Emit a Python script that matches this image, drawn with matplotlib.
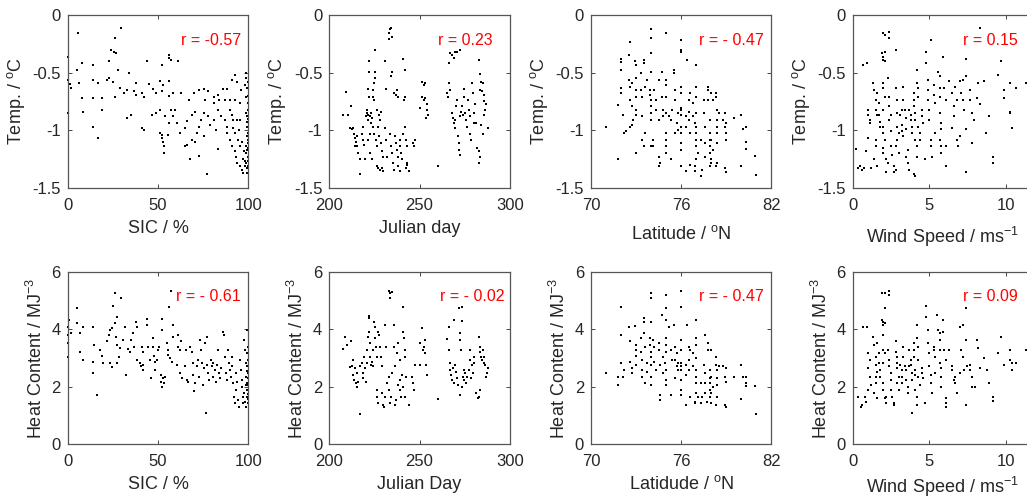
import matplotlib.pyplot as plt

plt.rcParams["font.family"] = ["Liberation Sans", "DejaVu Sans"]
plt.rcParams["mathtext.fontset"] = "custom"
plt.rcParams["mathtext.rm"] = "Liberation Sans"
plt.rcParams["mathtext.it"] = "Liberation Sans:italic"

# (x, y) samples
sic_temp = [
    (5.5, -0.16), (29.5, -0.11), (26, -0.20), (24, -0.30), (25.5, -0.32), (27, -0.33), (0.4, -0.36),
    (8, -0.42), (14, -0.43), (23, -0.40), (44, -0.40), (52, -0.43), (56, -0.37), (57, -0.39), (61, -0.40),
    (56, -0.35), (5, -0.48), (28, -0.48), (34, -0.50), (0.4, -0.56), (6.5, -0.59), (1.3, -0.60), (2, -0.63),
    (14, -0.56), (17, -0.59), (22, -0.56), (23, -0.55), (25, -0.58), (38, -0.59), (45, -0.60), (51, -0.57),
    (56, -0.57), (53, -0.61), (8, -0.72), (14, -0.72), (19, -0.72), (26, -0.71), (29, -0.63), (31, -0.68),
    (33, -0.65), (37, -0.66), (38, -0.69), (41, -0.68), (42, -0.71), (47, -0.64), (49, -0.68), (52, -0.66),
    (56, -0.70), (58.5, -0.68), (63, -0.68), (67, -0.74), (70, -0.68), (75.5, -0.64), (78, -0.66), (81, -0.71),
    (83, -0.69), (86, -0.64), (88, -0.64), (91, -0.56), (92.6, -0.52), (94, -0.58), (96, -0.65), (98, -0.61),
    (99, -0.50), (99, -0.55), (99.5, -0.63), (98.7, -0.71), (0.4, -0.85), (8.3, -0.84), (19, -0.82),
    (14, -0.97), (16.6, -1.07), (32.7, -0.89), (35, -0.87), (41, -0.98), (42, -1.00), (46.5, -0.87),
    (49, -0.85), (51, -0.82), (54, -0.88), (56, -0.94), (51, -1.02), (52, -1.07), (53, -1.10), (53.5, -1.14),
    (53.5, -1.20), (52.5, -1.04), (57, -0.82), (59.4, -0.82), (58.5, -0.88), (60.7, -0.94), (55.7, -1.04),
    (62, -1.02), (65, -0.98), (66, -0.92), (68.6, -0.87), (70.5, -0.84), (65, -1.14), (66, -1.13),
    (68.6, -1.08), (70.5, -1.10), (68, -1.25), (71.4, -1.02), (73, -0.97), (74, -0.91), (75.5, -0.85),
    (75.5, -1.05), (73, -1.22), (77, -1.38), (78, -0.88), (79, -0.95), (81, -0.91), (82, -1.00), (83, -1.16),
    (83, -0.82), (85, -0.88), (87, -0.91), (88, -0.97), (88, -1.02), (90, -0.82), (91, -0.87), (91.7, -0.91),
    (91.7, -0.98), (92.6, -1.02), (90, -1.08), (91, -1.14), (92.6, -1.18), (93.5, -1.23), (94, -1.28),
    (94.5, -1.08), (95.4, -1.14), (95.4, -1.31), (96.3, -1.34), (97, -1.25), (97, -1.37), (98, -1.31),
    (98.7, -1.14), (99, -1.20), (99.4, -1.05), (99.4, -0.97), (99.4, -0.88), (99.8, -0.82), (99.8, -0.76),
    (99.8, -1.02), (99.8, -1.11), (99.8, -1.23), (99.8, -1.31), (99.4, -1.37), (99, -1.28), (98.7, -0.85),
    (95.4, -0.91), (95, -1.00), (94, -0.91), (73, -0.65), (76, -0.74), (81, -0.76), (84, -0.74), (87, -0.74),
    (90, -0.74), (92.6, -0.74), (95.4, -0.76), (99.6, -0.93), (99.6, -1.17), (99.2, -1.33), (98.5, -1.27),
    (97.5, -1.18), (96.5, -1.10), (99.9, -0.70), (99.9, -0.58), (100, -0.90), (100, -1.08), (100, -1.15),
    (100, -1.27),
]

day_temp = [
    (209.3, -0.67), (207.8, -0.87), (210.6, -0.87), (211.9, -0.79), (211.5, -0.98), (212.4, -0.99),
    (213.3, -0.98), (213.9, -1.03), (214.3, -1.07), (214.8, -1.10), (214.3, -1.14), (215.2, -1.05),
    (215.6, -1.14), (216.1, -1.20), (217, -1.38), (217, -1.25), (218, -1.03), (218.5, -0.97), (218.9, -1.08),
    (219.3, -1.13), (219.8, -1.25), (220.4, -0.88), (220.7, -0.85), (221.1, -0.82), (221.7, -0.87),
    (221.3, -0.91), (222, -0.71), (221.7, -0.64), (222.2, -0.49), (221.8, -0.40), (222.6, -0.88), (223, -0.85),
    (223.5, -0.89), (223.1, -0.94), (222.6, -1.03), (221.7, -1.08), (222.6, -1.20), (223.5, -1.25),
    (224, -0.71), (224.4, -0.65), (224.8, -0.59), (225.4, -0.55), (224.8, -0.74), (225.4, -0.30),
    (225.4, -0.49), (224.4, -0.97), (225, -1.03), (225.9, -1.08), (226.3, -1.14), (226.3, -1.31),
    (227.2, -1.33), (228.1, -1.34), (229.1, -1.33), (230, -1.35), (226.7, -0.82), (227.8, -0.87),
    (228.1, -0.91), (228.5, -0.84), (227.2, -0.97), (227.8, -1.05), (228.5, -1.11), (229.1, -1.18),
    (229.6, -1.23), (230.9, -0.98), (231.5, -1.08), (231.9, -1.23), (231.1, -0.40), (231.5, -0.64),
    (232.8, -0.16), (233.3, -0.21), (234.1, -0.11), (234.6, -0.19), (233.7, -0.12), (234.1, -0.53),
    (234.6, -0.49), (233.7, -1.03), (234.3, -1.14), (234.8, -1.20), (235.2, -1.28), (235.6, -1.34),
    (236.1, -0.68), (236.9, -0.69), (237.4, -0.65), (238, -0.71), (236.5, -1.05), (237, -1.11),
    (237.4, -1.17), (237.8, -1.23), (238.3, -1.31), (238.9, -1.08), (239.3, -1.14), (239.6, -1.20),
    (240.2, -1.25), (239.3, -1.35), (240.7, -1.03), (241.1, -0.38), (241.7, -0.48), (242, -0.71),
    (241.5, -0.74), (242, -0.97), (242.4, -1.08), (243, -1.14), (243, -1.28), (243.3, -1.30), (242.6, -1.33),
    (244.3, -1.35), (246.3, -1.11), (247, -1.14), (247.6, -1.08), (251.3, -0.58), (252.2, -0.61),
    (252.8, -0.59), (251.3, -0.71), (252.2, -0.74), (253.2, -0.72), (254, -0.77), (250.4, -0.81),
    (254, -0.82), (254.6, -0.87), (253.7, -0.89), (260.2, -1.31), (266.1, -0.59), (266.7, -0.65),
    (266.1, -0.42), (265.2, -0.68), (265.6, -0.71), (267, -0.33), (267.9, -0.35), (268.9, -0.37),
    (269.8, -0.32), (270.7, -0.32), (272.2, -0.30), (267.9, -0.85), (268.5, -0.89), (268.9, -0.94),
    (269.4, -0.98), (269.8, -0.91), (270.4, -0.79), (270.7, -0.74), (271.1, -1.05), (271.7, -1.11),
    (272, -1.17), (272.6, -1.21), (272.2, -0.88), (273, -0.84), (273.5, -0.79), (274, -0.87), (274.4, -0.64),
    (274.8, -0.71), (275.4, -0.85), (275.9, -0.91), (276.3, -0.97), (276.7, -0.74), (277.2, -0.82),
    (277.8, -0.88), (278.1, -1.03), (278.5, -1.08), (279.1, -0.59), (279.6, -0.68), (280, -0.85),
    (280.4, -0.94), (280.9, -0.77), (281.9, -1.15), (282.8, -1.18), (282.8, -1.28), (283.3, -1.23),
    (282.8, -0.39), (283.7, -0.51), (284.1, -0.58), (283.7, -0.65), (284.6, -0.66), (285.2, -0.59),
    (285.6, -0.69), (285.9, -0.75), (286.5, -0.82), (285.9, -0.87), (287, -0.77), (287.8, -0.98),
    (285.2, -1.03), (284.1, -0.95), (281.5, -0.94),
]

lat_temp = [
    (71, -0.97), (71.8, -1.25), (71.8, -0.78), (72, -0.38), (72, -0.41), (72, -0.48), (72, -0.63), (72, -0.68),
    (72.1, -0.87), (72.2, -1.02), (72.3, -1.01), (72.6, -0.23), (72.5, -0.35), (72.6, -0.97), (72.7, -0.95),
    (72.8, -0.91), (72.5, -0.56), (72.6, -0.62), (72.7, -0.59), (72.6, -0.74), (72.7, -0.79), (72.9, -0.40),
    (73, -0.43), (73, -0.55), (73, -0.65), (73, -0.71), (73, -0.82), (73, -0.87), (73, -1.20), (73.3, -0.50),
    (73.3, -0.65), (73.4, -0.71), (73.4, -0.88), (73.4, -1.08), (73.5, -0.39), (73.5, -0.42), (73.5, -1.14),
    (73.6, -1.02), (73.6, -0.62), (73.7, -0.56), (73.9, -0.65), (73.9, -0.69), (74, -0.74), (74, -0.79),
    (74, -0.85), (74, -0.12), (74, -0.20), (74, -0.33), (74, -0.49), (74, -0.91), (74, -1.14), (74.1, -1.08),
    (74.1, -1.14), (74.2, -0.65), (74.3, -0.74), (74.3, -0.82), (74.5, -0.56), (74.5, -0.91), (74.5, -1.23),
    (74.6, -1.28), (74.5, -1.31), (74.7, -0.49), (74.7, -0.71), (74.8, -0.82), (74.8, -0.88), (75, -0.16),
    (75, -0.56), (75, -0.61), (75, -0.71), (75, -0.85), (75, -1.02), (75, -1.08), (75, -1.14), (75, -1.20),
    (75.2, -0.88), (75.3, -1.25), (75.3, -0.91), (75.4, -0.82), (75.5, -0.48), (75.5, -0.50), (75.6, -0.65),
    (75.6, -0.74), (75.6, -1.02), (75.7, -0.94), (75.8, -0.85), (75.8, -1.00), (76, -0.22), (76, -0.30),
    (76, -0.32), (76, -0.62), (76, -0.68), (76, -0.81), (76, -0.82), (76, -0.87), (76, -0.97), (76, -1.02),
    (76, -1.11), (76, -1.17), (76, -1.31), (76.3, -0.88), (76.3, -0.97), (76.3, -1.35), (76.4, -0.39),
    (76.5, -0.74), (76.5, -0.84), (76.5, -0.91), (76.6, -0.68), (76.6, -1.02), (76.6, -1.30), (76.8, -0.76),
    (76.8, -0.88), (76.9, -0.94), (76.9, -1.31), (76.9, -1.35), (77, -0.43), (77, -0.62), (77, -0.71),
    (77, -0.85), (77, -0.97), (77, -1.02), (77, -1.08), (77, -1.14), (77.1, -1.20), (77, -1.25), (77.3, -1.08),
    (77.3, -1.40), (77.4, -1.34), (77.5, -0.74), (77.5, -0.85), (77.6, -0.97), (77.6, -1.11), (77.6, -1.23),
    (77.8, -0.62), (77.8, -0.65), (77.8, -0.74), (77.9, -0.91), (77.9, -1.02), (77.9, -1.08), (77.9, -1.14),
    (77.9, -1.20), (78, -1.25), (77.9, -1.31), (78, -0.68), (78.1, -0.74), (78, -1.08), (78.1, -1.17),
    (78, -1.28), (78.3, -0.68), (78.3, -0.71), (78.4, -0.82), (78.4, -0.91), (78.4, -0.97), (78.4, -1.02),
    (78.4, -1.11), (78.4, -1.28), (78.3, -1.31), (78.5, -0.85), (78.8, -0.91), (78.9, -0.97), (79, -1.02),
    (79, -1.08), (78.9, -1.33), (79, -1.36), (79, -0.94), (78.9, -0.85), (79.5, -0.89), (80, -1.31),
    (80, -0.87), (80.1, -0.99), (80.3, -0.97), (80.3, -1.10), (80.3, -1.16), (80.9, -1.22), (81, -1.39),
]

wind_temp = [
    (0.37, -1.33), (0.48, -1.31), (0.59, -1.34), (0.76, -1.33), (0.22, -1.16), (0.65, -0.43), (0.96, -0.42),
    (0.87, -1.18), (1.0, -1.07), (1.1, -0.94), (1.0, -0.82), (1.0, -0.87), (1.1, -0.91), (1.2, -1.33),
    (1.35, -0.59), (1.4, -0.65), (1.5, -0.74), (1.5, -0.82), (1.6, -0.87), (1.5, -1.08), (1.5, -1.14),
    (1.4, -1.25), (1.6, -1.31), (1.6, -0.68), (1.7, -0.76), (1.7, -0.87), (1.8, -0.93), (1.8, -0.97),
    (1.9, -0.33), (2.0, -0.39), (2.0, -0.36), (2.1, -0.40), (2.1, -0.32), (2.0, -0.16), (2.1, -0.17),
    (2.4, -0.15), (2.4, -0.20), (2.8, -0.30), (2.0, -0.59), (2.0, -0.63), (2.1, -0.71), (2.0, -0.82),
    (2.0, -0.97), (2.0, -1.02), (2.1, -1.08), (2.0, -1.15), (2.0, -1.20), (2.2, -1.36), (2.2, -1.25),
    (2.3, -1.28), (2.3, -0.55), (2.4, -0.71), (2.4, -0.79), (2.5, -0.87), (2.4, -0.91), (2.5, -1.01),
    (2.5, -1.14), (2.6, -1.21), (2.7, -1.31), (2.7, -1.36), (2.8, -1.34), (2.8, -0.63), (2.9, -0.74),
    (2.9, -0.85), (2.9, -0.97), (3.0, -1.02), (2.9, -1.08), (2.8, -1.14), (3.0, -1.20), (3.1, -0.87),
    (3.2, -0.82), (3.2, -0.95), (3.2, -1.01), (3.3, -1.05), (3.3, -0.62), (3.3, -0.74), (3.4, -0.82),
    (3.5, -0.89), (3.5, -0.99), (3.6, -1.17), (3.5, -1.23), (3.6, -1.28), (3.7, -1.34), (3.7, -0.82),
    (3.8, -0.87), (3.8, -0.91), (3.9, -0.97), (3.9, -1.02), (4.0, -0.68), (4.0, -0.74), (4.0, -0.79),
    (4.1, -0.85), (4.1, -0.91), (4.2, -0.48), (4.2, -0.59), (4.1, -1.08), (4.2, -1.14), (4.2, -1.23),
    (4.0, -1.38), (4.1, -1.40), (4.3, -0.63), (4.3, -0.71), (4.3, -0.97), (4.4, -1.02), (4.4, -1.08),
    (4.5, -0.82), (4.5, -0.88), (4.6, -0.94), (4.7, -1.25), (4.8, -0.32), (4.8, -0.42), (4.9, -0.56),
    (4.9, -0.65), (4.9, -0.74), (5.0, -0.82), (5.0, -0.91), (5.1, -1.08), (5.1, -1.14), (5.2, -1.23),
    (5.1, -0.22), (5.3, -0.61), (5.3, -0.69), (5.4, -0.76), (5.4, -1.02), (5.6, -0.49), (5.7, -0.53),
    (5.7, -0.63), (5.7, -0.71), (5.7, -0.85), (5.8, -0.94), (5.8, -0.99), (5.7, -1.08), (5.8, -1.14),
    (5.8, -1.20), (5.9, -0.36), (6.0, -0.63), (6.1, -0.74), (6.1, -1.14), (6.1, -1.31), (6.3, -0.57),
    (6.5, -0.68), (6.6, -0.79), (6.6, -0.88), (6.5, -0.98), (6.7, -0.62), (6.8, -0.74), (6.8, -1.08),
    (6.9, -1.14), (7.0, -1.05), (7.0, -0.57), (7.1, -0.68), (7.2, -0.56), (7.2, -0.74), (7.3, -0.82),
    (7.4, -0.38), (7.4, -0.53), (7.4, -1.36), (7.4, -0.99), (7.7, -0.65), (7.7, -0.74), (7.8, -1.11),
    (7.8, -0.85), (7.9, -0.91), (8.1, -0.72), (8.2, -0.59), (8.3, -0.11), (8.3, -0.77), (8.6, -0.57),
    (8.7, -1.02), (8.9, -0.88), (9.2, -1.23), (9.2, -1.28), (9.5, -0.52), (9.7, -0.40), (9.9, -0.65),
    (9.9, -0.72), (10.3, -0.59), (10.3, -0.85), (10.4, -0.98), (10.3, -0.84), (10.7, -0.63), (11.3, -0.59),
]

sic_heat = [
    (0.9, 4.33), (0.4, 4.10), (0.4, 3.81), (1.7, 3.87), (0.4, 3.52), (0.2, 3.05), (5.4, 4.74), (5, 4.21),
    (6.8, 3.87), (8.3, 4.10), (6.8, 3.23), (8.3, 2.94), (14.2, 4.10), (14.6, 3.46), (13.8, 2.85),
    (13.8, 2.47), (16.4, 1.70), (17.9, 3.29), (18.8, 3.08), (19.7, 2.82), (22, 3.58), (23, 3.81),
    (23.4, 3.98), (24.4, 4.06), (25.3, 4.82), (23.4, 2.82), (24.4, 2.68), (26.2, 5.28), (26.2, 4.21),
    (27.1, 4.45), (26.8, 3.75), (27.1, 3.46), (29.3, 5.11), (27.5, 2.82), (28.6, 3.05), (28.9, 3.35),
    (30.4, 3.63), (31.7, 4.10), (32.3, 2.41), (33.6, 3.31), (34.5, 3.23), (34.9, 3.63), (36.3, 3.87),
    (36.7, 3.40), (37.8, 4.27), (38.6, 4.10), (38.2, 2.94), (40, 2.82), (40.4, 2.71), (41, 3.40),
    (41.5, 3.23), (41.9, 2.76), (41.9, 2.59), (43.7, 4.38), (44.1, 4.15), (44.6, 3.40), (45.6, 2.94),
    (45.9, 2.30), (47, 3.69), (47.4, 3.40), (47.8, 3.08), (48.3, 2.85), (48.3, 2.59), (49.3, 2.94),
    (50.2, 3.29), (50.7, 3.40), (52, 4.35), (52, 3.98), (51.5, 2.41), (51.8, 2.18), (52.2, 2.01), (53, 2.30),
    (53.3, 2.15), (53.9, 2.36), (54.8, 3.52), (55.4, 3.29), (55.7, 3.11), (56.6, 2.99), (57.6, 2.88),
    (57, 5.35), (56.3, 4.79), (58.1, 4.16), (58.5, 3.75), (60.3, 2.76), (60.9, 3.40), (61.3, 3.81),
    (62.2, 3.29), (62.5, 3.58), (62.2, 2.47), (63.1, 2.30), (64.9, 2.71), (65.5, 3.29), (65.9, 2.24),
    (66.8, 2.18), (67.7, 3.40), (68.6, 3.23), (69.2, 2.82), (69.6, 2.41), (70, 1.84), (70.5, 2.13),
    (71.4, 2.71), (72.3, 2.94), (72.8, 2.36), (73.2, 3.63), (73.6, 3.29), (74.2, 2.82), (74.7, 2.07),
    (75.5, 2.65), (76, 3.52), (76.6, 1.08), (76.9, 3.75), (77.3, 2.76), (77.9, 2.47), (78.4, 2.24),
    (79.2, 2.94), (79.7, 2.71), (80.3, 2.36), (80.6, 2.82), (81.5, 2.59), (82.1, 2.18), (82.5, 2.76),
    (83.4, 3.29), (83.9, 2.47), (84.3, 2.30), (85.2, 2.65), (86.2, 3.92), (86.5, 3.81), (87.1, 3.05),
    (87.6, 2.47), (88, 2.24), (88.9, 3.29), (89.5, 2.82), (89.9, 2.59), (90.2, 2.36), (90.8, 3.05),
    (91.3, 2.71), (91.7, 2.13), (92.1, 1.66), (92.6, 1.43), (93.2, 1.89), (93.5, 2.47), (93.9, 2.18),
    (94.5, 1.55), (95, 1.31), (95.4, 2.94), (95.8, 2.59), (96.3, 2.01), (96.9, 1.66), (97.2, 1.43),
    (97.8, 3.63), (98.2, 3.29), (98.7, 2.82), (98.7, 2.36), (99.1, 1.89), (99.4, 3.98), (99.4, 3.17),
    (99.6, 2.71), (99.6, 2.13), (99.6, 1.66), (99.8, 1.43), (99.8, 2.47), (99.8, 2.94), (99.8, 3.40),
    (99.8, 1.89), (99, 1.31), (98.3, 1.49), (97.6, 1.78), (96.5, 2.24), (100, 2.05), (100, 1.75),
    (100, 2.30), (99.9, 1.58), (99.5, 2.55), (98.9, 2.05),
]

day_heat = [
    (208.7, 3.73), (207.8, 3.31), (210, 3.46), (211.9, 3.61), (211.5, 2.68), (212.4, 2.71), (213, 2.94),
    (213.3, 2.41), (213.7, 2.24), (214.3, 2.65), (214.8, 2.13), (215.2, 2.01), (215.6, 2.47), (216.1, 2.18),
    (217, 1.06), (217, 2.71), (218, 2.82), (218.5, 2.47), (218.9, 2.30), (219.3, 3.05), (219.8, 2.65),
    (220.4, 2.18), (220.7, 2.82), (221.1, 3.29), (221.7, 3.75), (221.8, 4.48), (222.2, 4.39), (222, 3.92),
    (222.6, 3.52), (222.6, 3.05), (223, 2.76), (223.5, 2.88), (224, 3.29), (224.4, 2.71), (224.8, 4.27),
    (225.4, 4.10), (225.4, 3.69), (225.9, 3.40), (226.3, 3.05), (226.3, 1.89), (226.7, 1.66), (227.2, 1.43),
    (227.2, 3.92), (227.8, 3.81), (228.1, 3.40), (228.5, 3.05), (229.1, 2.71), (229.1, 1.78), (229.6, 1.37),
    (230.4, 1.31), (230.9, 1.66), (231.5, 3.40), (230.9, 4.16), (231.9, 2.13), (232.8, 5.35), (233.7, 5.28),
    (234.6, 5.32), (233.7, 5.11), (232.8, 2.36), (233.3, 1.89), (233.7, 1.43), (234.6, 2.47), (234.1, 1.66),
    (235.6, 4.16), (236.1, 3.40), (236.5, 2.71), (236.5, 1.37), (237, 1.55), (237.4, 3.17), (237.8, 3.52),
    (238.3, 2.07), (238.9, 1.89), (238.9, 2.24), (239.3, 2.94), (239.6, 1.66), (240.2, 2.41), (240.7, 4.77),
    (240.7, 2.01), (241.1, 3.92), (241.5, 3.69), (241.7, 3.29), (242, 3.05), (242, 1.66), (242.4, 2.36),
    (244.3, 1.37), (245.7, 2.36), (246.3, 2.13), (247, 1.89), (247.6, 2.76), (250, 2.76), (250.4, 3.52),
    (251.3, 4.04), (251.9, 3.29), (252.2, 3.40), (252.8, 3.17), (253.2, 3.63), (253.7, 2.76), (254, 2.41),
    (260.2, 1.57), (265.2, 3.66), (266.1, 4.10), (266.1, 3.29), (266.7, 2.82), (267, 2.59), (267.4, 2.41),
    (267.9, 2.24), (268.5, 2.65), (268.9, 2.13), (269.3, 4.33), (269.8, 2.76), (270.4, 2.53), (270.7, 2.30),
    (271.1, 2.07), (271.7, 4.74), (272.2, 3.87), (272.6, 3.63), (273, 3.29), (273.5, 4.79), (273.5, 4.31),
    (272.6, 1.72), (273.5, 2.01), (274, 2.36), (274.4, 2.59), (274.8, 2.24), (275.4, 2.47), (275.9, 2.13),
    (276.3, 2.36), (277.2, 2.59), (277.8, 2.94), (278.1, 3.29), (278.5, 2.30), (279.1, 2.76), (279.6, 2.47),
    (280, 3.05), (280.4, 2.82), (281.5, 1.78), (282.2, 1.61), (282.8, 1.66), (283.3, 1.89), (282.8, 3.73),
    (283.3, 3.40), (283.7, 3.23), (284.1, 3.05), (284.6, 2.94), (285.2, 3.29), (285.6, 2.82), (285.9, 3.05),
    (286.5, 2.76), (287, 2.36), (287.4, 2.47), (287.8, 2.65),
]

lat_heat = [
    (71, 2.47), (71.8, 2.07), (71.8, 2.33), (72, 4.77), (72, 3.81), (72, 2.82), (72.1, 2.36), (72.2, 2.59),
    (72.5, 4.07), (72.6, 3.58), (72.6, 2.88), (72.7, 2.47), (72.7, 2.65), (72.9, 4.12), (73, 3.46), (73, 3.29),
    (73, 3.08), (73, 2.76), (73.3, 3.69), (73.3, 3.23), (73.4, 2.94), (73.4, 2.59), (73.4, 2.36), (73.5, 4.39),
    (73.5, 4.27), (73.5, 3.87), (73.6, 3.40), (73.6, 2.13), (73.7, 2.82), (73.7, 2.53), (73.9, 3.69),
    (73.9, 3.46), (74, 3.23), (74, 3.05), (74, 2.76), (74, 5.28), (74, 5.11), (74, 4.27), (74, 2.36),
    (74, 2.07), (74.1, 3.63), (74.2, 3.40), (74.2, 2.88), (74.3, 2.59), (74.5, 3.52), (74.5, 3.29),
    (74.6, 1.72), (74.6, 1.55), (74.6, 2.76), (74.7, 4.50), (74.8, 3.05), (74.8, 2.47), (74.9, 2.82),
    (75, 5.20), (75, 4.33), (75, 3.69), (75, 3.46), (75, 3.23), (75, 2.59), (75, 2.24), (75, 2.07), (75, 4.74),
    (75.2, 4.10), (75.3, 1.72), (75.3, 3.29), (75.4, 2.94), (75.5, 4.16), (75.6, 3.40), (75.6, 2.94),
    (75.6, 2.30), (75.7, 2.71), (75.7, 3.17), (75.8, 2.59), (75.8, 2.82), (76, 5.35), (76, 4.79), (76, 3.63),
    (76, 3.29), (76, 2.82), (76, 2.71), (76, 2.59), (76, 1.89), (76, 1.72), (76, 2.24), (76.3, 2.76),
    (76.3, 2.41), (76.3, 1.37), (76.4, 4.16), (76.5, 3.40), (76.5, 2.94), (76.5, 2.59), (76.6, 3.29),
    (76.6, 1.66), (76.8, 3.17), (76.8, 2.71), (76.9, 1.49), (76.9, 1.43), (77, 4.33), (77, 3.69), (77, 3.46),
    (77, 3.00), (77, 2.59), (77, 2.36), (77, 2.13), (77, 1.78), (77.1, 1.66), (77.3, 2.13), (77.3, 1.43),
    (77.4, 1.66), (77.5, 2.76), (77.6, 2.47), (77.6, 2.13), (77.6, 1.78), (77.6, 3.81), (77.7, 1.49),
    (77.8, 3.52), (77.8, 3.29), (77.9, 2.59), (77.9, 2.30), (77.9, 2.13), (77.9, 1.89), (77.9, 1.66),
    (78, 1.43), (78, 3.29), (78, 2.36), (78.1, 2.01), (78, 1.78), (78.3, 3.05), (78.3, 2.76), (78.4, 2.59),
    (78.4, 2.30), (78.4, 2.07), (78.4, 1.66), (78.3, 1.37), (78.5, 2.71), (78.8, 2.71), (78.9, 2.36),
    (79, 2.18), (78.9, 1.37), (79, 1.31), (79, 2.65), (79.5, 2.36), (80, 1.57), (80, 2.76), (80.1, 2.36),
    (80.3, 2.36), (80.3, 2.03), (80.3, 2.13), (80.9, 2.03), (81, 1.06),
]

wind_heat = [
    (0.37, 1.66), (0.52, 1.31), (0.59, 1.37), (0.65, 4.10), (0.96, 4.07), (0.8, 1.66), (0.9, 1.49),
    (1.0, 1.89), (1.1, 2.36), (1.0, 2.65), (1.0, 3.17), (1.1, 2.94), (1.2, 2.07), (1.35, 3.75), (1.4, 3.46),
    (1.5, 3.05), (1.5, 2.76), (1.6, 2.53), (1.5, 2.13), (1.5, 2.36), (1.4, 1.78), (1.6, 1.61), (1.6, 3.52),
    (1.7, 3.17), (1.7, 2.82), (1.8, 2.59), (1.8, 2.36), (1.9, 4.33), (2.0, 4.16), (2.0, 4.27), (2.1, 4.21),
    (2.1, 4.74), (1.9, 5.28), (2.1, 5.26), (2.4, 5.35), (2.4, 5.20), (2.0, 3.81), (2.0, 3.29), (2.1, 3.17),
    (2.0, 2.82), (2.0, 2.13), (2.0, 1.89), (2.1, 1.61), (2.2, 1.66), (2.2, 1.43), (2.3, 3.29), (2.4, 2.94),
    (2.4, 2.71), (2.5, 2.47), (2.5, 2.24), (2.5, 1.89), (2.6, 1.66), (2.7, 1.43), (2.7, 1.37), (2.8, 3.58),
    (2.8, 3.23), (2.9, 3.05), (2.9, 2.82), (2.9, 2.65), (3.0, 2.36), (2.9, 2.13), (3.0, 1.89), (3.1, 2.76),
    (3.2, 2.59), (3.2, 2.36), (3.2, 2.13), (3.3, 3.40), (3.3, 3.05), (3.4, 2.71), (3.5, 2.59), (3.5, 2.24),
    (3.6, 2.01), (3.6, 1.78), (3.7, 2.71), (3.7, 3.29), (3.8, 2.94), (3.8, 2.76), (3.9, 2.47), (3.9, 2.24),
    (3.9, 1.08), (4.0, 3.52), (4.0, 3.29), (4.0, 3.05), (4.1, 2.59), (4.1, 2.41), (4.1, 1.89), (4.2, 1.66),
    (4.2, 1.37), (4.2, 4.16), (4.2, 3.69), (4.3, 3.40), (4.3, 2.94), (4.3, 2.36), (4.4, 2.07), (4.5, 2.65),
    (4.5, 2.47), (4.6, 2.30), (4.7, 1.43), (4.8, 4.82), (4.8, 4.45), (4.9, 3.98), (4.9, 3.52), (5.0, 3.17),
    (5.0, 2.71), (5.1, 2.41), (5.1, 2.13), (5.2, 1.78), (5.3, 3.40), (5.3, 3.29), (5.4, 3.05), (5.4, 2.47),
    (5.5, 4.50), (5.6, 3.98), (5.7, 3.87), (5.7, 3.63), (5.7, 3.29), (5.7, 2.82), (5.8, 2.65), (5.8, 2.36),
    (5.8, 2.01), (5.9, 4.33), (5.9, 3.92), (6.0, 3.29), (6.1, 2.94), (6.1, 1.61), (6.1, 1.43), (6.1, 1.31),
    (6.3, 3.29), (6.5, 2.71), (6.5, 2.59), (6.6, 2.24), (6.7, 2.36), (6.7, 2.13), (6.8, 1.78), (7.0, 2.47),
    (7.0, 4.10), (7.1, 3.29), (7.2, 4.16), (7.2, 3.05), (7.3, 2.59), (7.4, 1.37), (7.4, 4.74), (7.4, 3.63),
    (7.5, 2.71), (7.7, 2.76), (7.7, 2.59), (7.8, 2.01), (7.8, 2.36), (8.0, 2.01), (8.1, 3.63), (8.2, 3.35),
    (8.3, 2.65), (8.6, 3.00), (8.8, 2.59), (8.9, 2.13), (9.2, 1.66), (9.2, 1.52), (9.5, 3.17), (9.7, 3.75),
    (9.9, 2.76), (10.3, 3.29), (10.3, 2.94), (10.4, 2.59), (10.4, 2.82), (10.7, 2.82), (11.3, 3.29),
]

r_values = ["r = -0.57", "r = 0.23", "r = - 0.47", "r = 0.15",
            "r = - 0.61", "r = - 0.02", "r = - 0.47", "r = 0.09"]

temp_ticks = [-1.5, -1, -0.5, 0]
temp_labels = ["-1.5", "-1", "-0.5", "0"]
heat_ticks = [0, 2, 4, 6]

columns = [
    dict(xlim=(0, 100), xticks=[0, 50, 100], top="SIC / %", bottom="SIC / %"),
    dict(xlim=(200, 300), xticks=[200, 250, 300], top="Julian day", bottom="Julian Day"),
    dict(xlim=(70, 82), xticks=[70, 76, 82], top=r"Latitude / $^{\mathrm{o}}$N",
         bottom=r"Latidude / $^{\mathrm{o}}$N"),
    dict(xlim=(0, 11.8), xticks=[0, 5, 10], top=r"Wind Speed / ms$^{-1}$",
         bottom=r"Wind Speed / ms$^{-1}$"),
]
top_data = [sic_temp, day_temp, lat_temp, wind_temp]
bottom_data = [sic_heat, day_heat, lat_heat, wind_heat]
r_xpos = [0.96, 0.907, 0.958, 0.916, 0.96, 0.968, 0.958, 0.916]

W, H = 1027, 498
lefts = [67.7, 329.3, 591.0, 852.7]
ax_w = 180.5
rows = [(15, 173), (272, 172.3)]  # top px, height px

TXT = "#262626"
fig = plt.figure(figsize=(W / 100, H / 100), dpi=100)

for r, (top_px, h_px) in enumerate(rows):
    for c, left in enumerate(lefts):
        ax = fig.add_axes([left / W, 1 - (top_px + h_px) / H, ax_w / W, h_px / H])
        col = columns[c]
        pts = (top_data if r == 0 else bottom_data)[c]
        xs, ys = zip(*pts)
        ax.scatter(xs, ys, s=3, marker="s", color="black", linewidths=0, clip_on=False, zorder=2)

        ax.set_xlim(*col["xlim"])
        ax.set_xticks(col["xticks"], [str(t) for t in col["xticks"]])
        if r == 0:
            ax.set_ylim(-1.5, 0)
            ax.set_yticks(temp_ticks, temp_labels)
            ax.set_ylabel(r"Temp. / $^{\mathrm{o}}$C", fontsize=13, color=TXT, labelpad=4)
        else:
            ax.set_ylim(0, 6)
            ax.set_yticks(heat_ticks, [str(t) for t in heat_ticks])
            ax.set_ylabel(r"Heat Content / MJ$^{-3}$", fontsize=13, color=TXT, labelpad=4)

        label = col["top"] if r == 0 else col["bottom"]
        if c < 2:
            pad = 5
        else:
            pad = 9 if r == 0 else 4
        ax.set_xlabel(label, fontsize=13, color=TXT, labelpad=pad)

        ax.tick_params(direction="in", top=True, right=True, length=3, width=0.6,
                       labelsize=12, colors=TXT, pad=5)
        ax.tick_params(axis="x", pad=7)
        for sp in ax.spines.values():
            sp.set_color("#555555")
            sp.set_linewidth(0.9)

        ax.text(r_xpos[r * 4 + c], 0.855, r_values[r * 4 + c], transform=ax.transAxes,
                ha="right", va="center", fontsize=11.5, color="red", zorder=3)

fig.savefig("out.png", dpi=100, facecolor="white")
